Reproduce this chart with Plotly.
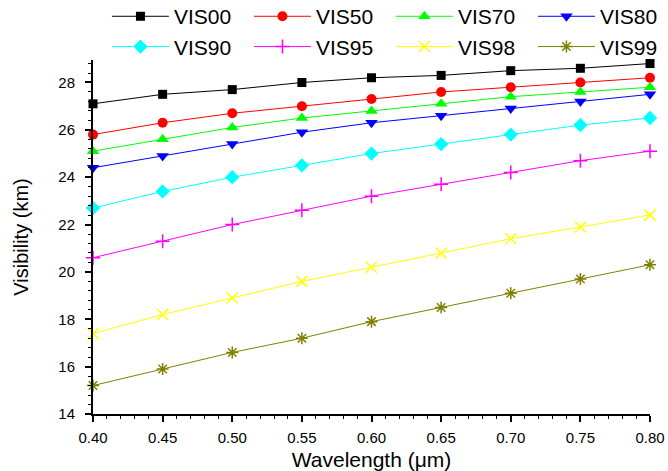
import plotly.graph_objects as go

wavelength = [0.40, 0.45, 0.50, 0.55, 0.60, 0.65, 0.70, 0.75, 0.80]
series_names = ["VIS00", "VIS50", "VIS70", "VIS80", "VIS90", "VIS95", "VIS98", "VIS99"]
vis00 = [27.1, 27.5, 27.7, 28.0, 28.2, 28.3, 28.5, 28.6, 28.8]
vis50 = [25.8, 26.3, 26.7, 27.0, 27.3, 27.6, 27.8, 28.0, 28.2]
vis70 = [25.1, 25.6, 26.1, 26.5, 26.8, 27.1, 27.4, 27.6, 27.8]
vis80 = [24.4, 24.9, 25.4, 25.9, 26.3, 26.6, 26.9, 27.2, 27.5]
vis90 = [22.7, 23.4, 24.0, 24.5, 25.0, 25.4, 25.8, 26.2, 26.5]
vis95 = [20.6, 21.3, 22.0, 22.6, 23.2, 23.7, 24.2, 24.7, 25.1]
vis98 = [17.4, 18.2, 18.9, 19.6, 20.2, 20.8, 21.4, 21.9, 22.4]
vis99 = [15.2, 15.9, 16.6, 17.2, 17.9, 18.5, 19.1, 19.7, 20.3]
x_ticks = [0.40, 0.45, 0.50, 0.55, 0.60, 0.65, 0.70, 0.75, 0.80]
y_ticks = [14, 16, 18, 20, 22, 24, 26, 28]

values = [vis00, vis50, vis70, vis80, vis90, vis95, vis98, vis99]
colors = ["#000000", "#ff0000", "#00ff00", "#0000ff", "#00ffff", "#ff00ff", "#ffff00", "#808000"]
symbols = ["square", "circle", "triangle-up", "triangle-down", "diamond", "cross-thin", "x-thin", "asterisk"]
sizes = [9, 10, 11, 11, 11, 10, 11, 10]

fig = go.Figure()
for name, vals, c, s, sz in zip(series_names, values, colors, symbols, sizes):
    thin = s.endswith("thin") or s == "asterisk"
    fig.add_trace(go.Scatter(
        x=wavelength, y=vals, name=name, mode="lines+markers",
        line=dict(color=c, width=1),
        marker=dict(symbol=s, size=sz, color=c,
                    line=dict(color=c, width=1.5 if thin else 0)),
        cliponaxis=False,
    ))

fig.update_layout(
    width=668, height=471,
    margin=dict(l=93, r=18, t=60, b=57, autoexpand=False),
    paper_bgcolor="white", plot_bgcolor="white",
    font=dict(family="Liberation Sans, Arial, sans-serif", color="black"),
    showlegend=True,
    legend=dict(
        orientation="h", x=-0.0001, xanchor="left", y=1.22, yanchor="top",
        font=dict(size=21), entrywidth=70, entrywidthmode="pixels",
        itemwidth=57, tracegroupgap=0, bgcolor="rgba(0,0,0,0)",
        borderwidth=14, bordercolor="rgba(0,0,0,0)",
    ),
    xaxis=dict(
        range=[0.40, 0.80], tickvals=x_ticks, tickformat=".2f", automargin=False,
        showgrid=False, zeroline=False, showline=True, linecolor="black", linewidth=2,
        ticks="outside", ticklen=6, tickwidth=1.5, tickcolor="black",
        tickfont=dict(size=15), ticklabelstandoff=3,
        minor=dict(dtick=0.01, ticks="outside", ticklen=3, tickwidth=1, tickcolor="black"),
        title=dict(text="Wavelength (\u03bcm)", font=dict(size=21), standoff=10),
    ),
    yaxis=dict(
        range=[14, 28.95], tickvals=y_ticks, automargin=False,
        showgrid=False, zeroline=False, showline=True, linecolor="black", linewidth=2,
        ticks="outside", ticklen=6, tickwidth=1.5, tickcolor="black",
        tickfont=dict(size=15), ticklabelstandoff=7,
        minor=dict(dtick=0.4, tick0=14, ticks="outside", ticklen=3, tickwidth=1, tickcolor="black"),
        title=dict(text="Visibility (km)", font=dict(size=20), standoff=24),
    ),
)

fig.write_html("out.html", config={"displayModeBar": False},
               post_script="document.body.style.margin='0';")
